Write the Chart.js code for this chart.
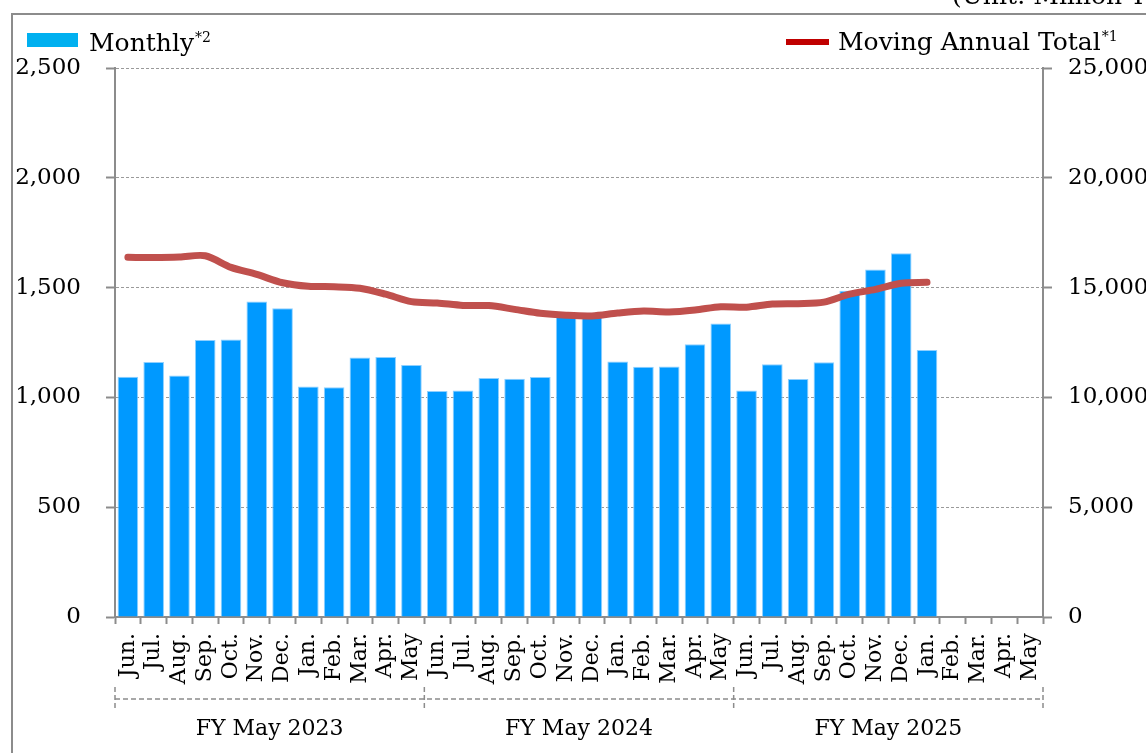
<!DOCTYPE html>
<html>
<head>
<meta charset="utf-8">
<script src="https://cdn.jsdelivr.net/npm/chart.js@4/dist/chart.umd.min.js"></script>
<style>
  html, body { margin: 0; padding: 0; background: #fff; overflow: hidden; }
  canvas { display: block; }
</style>
</head>
<body>
<canvas id="chart" width="1146" height="753"></canvas>
<script>
const months = [
  "Jun.", "Jul.", "Aug.", "Sep.", "Oct.", "Nov.", "Dec.", "Jan.", "Feb.", "Mar.", "Apr.", "May",
  "Jun.", "Jul.", "Aug.", "Sep.", "Oct.", "Nov.", "Dec.", "Jan.", "Feb.", "Mar.", "Apr.", "May",
  "Jun.", "Jul.", "Aug.", "Sep.", "Oct.", "Nov.", "Dec.", "Jan.", "Feb.", "Mar.", "Apr.", "May",
];

// monthly sales (left axis, million yen)
const monthly = [
  1094, 1161, 1100, 1261, 1264, 1437, 1406, 1050, 1046, 1182, 1184, 1147,
  1029, 1031, 1088, 1085, 1093, 1380, 1385, 1164, 1140, 1141, 1242, 1337,
  1031, 1151, 1084, 1160, 1486, 1582, 1656, 1216, null, null, null, null,
];

// moving annual total (right axis, million yen)
const movingTotal = [
  16380, 16370, 16390, 16450, 15920, 15600, 15220, 15060, 15040, 14970, 14700, 14360,
  14300, 14190, 14180, 14010, 13830, 13740, 13710, 13840, 13930, 13890, 13980, 14130,
  14110, 14250, 14270, 14340, 14700, 14920, 15200, 15240, null, null, null, null,
];

const fiscalYears = ["FY May 2023", "FY May 2024", "FY May 2025"];
const monthsPerYear = 12;

const FONT = '"DejaVu Serif", serif';
const GRAY = "#8c8c8c";

// frame, unit note, legend and the fiscal-year brackets under the axis
const extras = {
  id: "extras",
  afterDraw(chart) {
    const ctx = chart.ctx;
    const xs = chart.scales.x;
    ctx.save();

    ctx.strokeStyle = GRAY;
    ctx.lineWidth = 2;
    ctx.strokeRect(12, 14, 1200, 800);

    ctx.fillStyle = "#000";
    ctx.textBaseline = "alphabetic";
    ctx.textAlign = "left";
    ctx.font = "25px " + FONT;
    ctx.fillText("(Unit: Million Yen)", 952, 4);

    // legend
    ctx.fillStyle = "#00B0F0";
    ctx.fillRect(27, 33, 51, 14);
    ctx.fillStyle = "#000";
    ctx.font = "25px " + FONT;
    ctx.fillText("Monthly", 89, 51);
    let w = ctx.measureText("Monthly").width;
    ctx.font = "14px " + FONT;
    ctx.fillText("*2", 89 + w + 1, 42);

    ctx.fillStyle = "#C00000";
    ctx.fillRect(786, 39, 43, 6);
    ctx.fillStyle = "#000";
    ctx.font = "25px " + FONT;
    ctx.fillText("Moving Annual Total", 838, 50);
    w = ctx.measureText("Moving Annual Total").width;
    ctx.font = "14px " + FONT;
    ctx.fillText("*1", 838 + w + 1, 41);

    // brackets
    const step = xs.width / months.length;
    const yLine = 699;
    ctx.strokeStyle = GRAY;
    ctx.lineWidth = 1.5;
    ctx.setLineDash([5, 3]);
    ctx.beginPath();
    ctx.moveTo(xs.left, yLine);
    ctx.lineTo(xs.right, yLine);
    for (let i = 0; i <= fiscalYears.length; i++) {
      const bx = xs.left + i * monthsPerYear * step;
      ctx.moveTo(bx, 687);
      ctx.lineTo(bx, 711);
    }
    ctx.stroke();
    ctx.setLineDash([]);

    ctx.fillStyle = "#000";
    ctx.font = "22px " + FONT;
    ctx.textAlign = "center";
    ctx.textBaseline = "middle";
    fiscalYears.forEach((name, i) => {
      const first = xs.getPixelForValue(i * monthsPerYear);
      const last = xs.getPixelForValue(i * monthsPerYear + monthsPerYear - 1);
      ctx.fillText(name, (first + last) / 2, 729);
    });

    ctx.restore();
  },
};

new Chart(document.getElementById("chart"), {
  type: "bar",
  data: {
    labels: months,
    datasets: [
      {
        type: "line",
        data: movingTotal,
        yAxisID: "y2",
        borderColor: "#C0504D",
        borderWidth: 7,
        borderCapStyle: "round",
        borderJoinStyle: "round",
        pointRadius: 0,
        tension: 0.3,
        order: 0,
      },
      {
        type: "bar",
        data: monthly,
        yAxisID: "y",
        backgroundColor: "#0099FF",
        borderColor: "#8fd0ff",
        borderWidth: 1,
        barPercentage: 0.8,
        categoryPercentage: 1,
        order: 1,
      },
    ],
  },
  options: {
    responsive: false,
    devicePixelRatio: 1,
    animation: false,
    layout: { padding: { top: 68, left: 0, right: 0, bottom: 0 } },
    plugins: {
      legend: { display: false },
      tooltip: { enabled: false },
    },
    scales: {
      x: {
        offset: true,
        grid: {
          offset: true,
          drawOnChartArea: false,
          tickLength: 7,
          tickColor: GRAY,
          tickWidth: 2,
        },
        border: { color: GRAY, width: 2 },
        ticks: {
          autoSkip: false,
          minRotation: 90,
          maxRotation: 90,
          padding: 9,
          color: "#000",
          font: { family: FONT, size: 22 },
        },
        afterFit(scale) { scale.height = 136; },
      },
      y: {
        position: "left",
        min: 0,
        max: 2500,
        ticks: {
          stepSize: 500,
          padding: 25,
          color: "#000",
          font: { family: FONT, size: 23 },
          callback: (v) => v.toLocaleString("en-US"),
        },
        grid: {
          color: "#9a9a9a",
          lineWidth: 1,
          tickLength: 9,
          tickColor: GRAY,
          tickWidth: 2,
          tickBorderDash: [],
        },
        border: { color: GRAY, width: 2, dash: [3, 2] },
        afterFit(scale) { scale.width = 115; },
      },
      y2: {
        position: "right",
        min: 0,
        max: 25000,
        ticks: {
          stepSize: 5000,
          padding: 16,
          color: "#000",
          font: { family: FONT, size: 23 },
          callback: (v) => v.toLocaleString("en-US"),
        },
        grid: {
          drawOnChartArea: false,
          tickLength: 9,
          tickColor: GRAY,
          tickWidth: 2,
        },
        border: { color: GRAY, width: 2 },
        afterFit(scale) { scale.width = 103; },
      },
    },
  },
  plugins: [extras],
});
</script>
</body>
</html>
